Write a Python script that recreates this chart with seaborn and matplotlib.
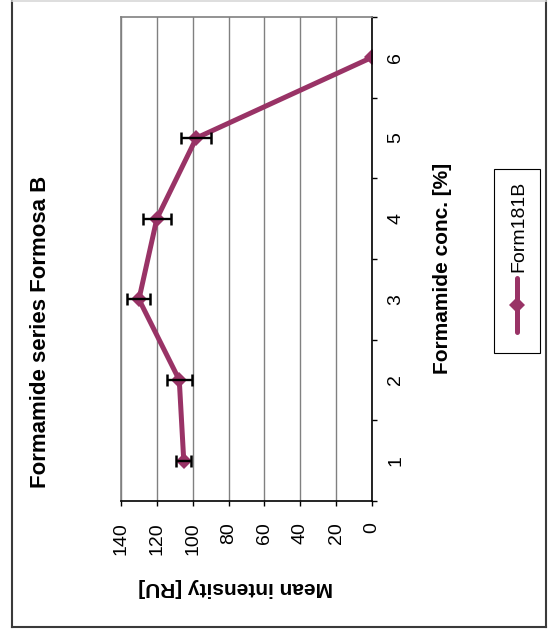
import matplotlib
matplotlib.use("Agg")
import matplotlib.pyplot as plt
from matplotlib.lines import Line2D
from matplotlib.patches import Rectangle
from matplotlib.ticker import FixedLocator, NullFormatter
import seaborn as sns
import numpy as np

# Formamide concentration series (Formosa B)
concentration = [1, 2, 3, 4, 5, 6]
conc_labels = ["1", "2", "3", "4", "5", "6"]
mean_intensity = [105, 107.5, 130, 120, 98, 0]
intensity_err = [4.2, 7.0, 6.4, 8.0, 8.4, 0]
intensity_ticks = [0, 20, 40, 60, 80, 100, 120, 140]
series_name = "Form181B"

LINE_COLOR = "#993366"
W, H = 550, 631

plt.rcParams["font.family"] = ["Liberation Sans", "DejaVu Sans"]

fig = plt.figure(figsize=(W / 100, H / 100), dpi=100)


def fx(x):
    return x / W


def fy(y):
    return 1 - y / H


# plot area (chart is laid out turned on its side)
left, right, top, bottom = 121, 372, 17, 501
ax = fig.add_axes([fx(left), fy(bottom), (right - left) / W, (bottom - top) / H])

sns.lineplot(x=mean_intensity, y=concentration, sort=False, ax=ax,
             color=LINE_COLOR, lw=3.6, marker="D", markersize=8,
             markeredgewidth=0, zorder=2)

err = np.array(intensity_err)
mask = err > 0
ax.errorbar(np.array(mean_intensity)[mask], np.array(concentration)[mask],
            xerr=err[mask], fmt="none", ecolor="black", elinewidth=1.7,
            capsize=4.3, capthick=1.8, zorder=3)

ax.set_xlim(140, 0)
ax.set_ylim(0.5, 6.5)
ax.set_xticks(intensity_ticks)
ax.set_xticklabels([str(t) for t in intensity_ticks], rotation=90, fontsize=14)
ax.grid(axis="x", color="#808080", lw=1.0)
ax.set_axisbelow(True)

# category axis on the right: labels at centres, tick marks between categories
ax.yaxis.tick_right()
ax.set_yticks(concentration)
ax.set_yticklabels(conc_labels, rotation=90, fontsize=14, va="center",
                   ha="left")
ax.yaxis.set_minor_locator(FixedLocator(np.arange(0.5, 7, 1.0)))
ax.yaxis.set_minor_formatter(NullFormatter())
ax.tick_params(axis="y", which="major", length=0, pad=11, right=True,
               left=False)
ax.tick_params(axis="y", which="minor", length=3.6, width=1, direction="out",
               right=True, left=False)
ax.tick_params(axis="x", length=3.6, width=1, direction="out", pad=11.5)

for side in ("left", "top"):
    ax.spines[side].set_color("#808080")
    ax.spines[side].set_linewidth(1.2)
for side in ("right", "bottom"):
    ax.spines[side].set_color("black")
    ax.spines[side].set_linewidth(1.2)

ax.set_xlabel("Mean intensity [RU]", rotation=180, fontsize=15,
              fontweight="bold", va="center", ha="center")
ax.xaxis.set_label_coords((236 - left) / (right - left),
                          -(587 - bottom) / (bottom - top))
ax.yaxis.set_label_position("right")
ax.set_ylabel("Formamide conc. [%]", rotation=90, fontsize=15,
              fontweight="bold", va="center", ha="center")
ax.yaxis.set_label_coords((442 - left) / (right - left),
                          (bottom - 268) / (bottom - top))

# title along the left edge
fig.text(fx(41), fy(332), "Formamide series Formosa B", rotation=90,
         fontsize=16, fontweight="bold", ha="center", va="center")

# legend box
fig.add_artist(Rectangle((fx(494), fy(353)), (540 - 494) / W, (353 - 169) / H,
                         transform=fig.transFigure, fill=False,
                         edgecolor="black", lw=0.8))
fig.add_artist(Line2D([fx(517)] * 3, [fy(278), fy(305), fy(332)],
                      transform=fig.transFigure, color=LINE_COLOR, lw=3.6,
                      marker="D", markersize=8, markeredgewidth=0,
                      markevery=[1], solid_capstyle="round"))
fig.text(fx(519), fy(272), series_name, rotation=90, fontsize=14,
         ha="center", va="bottom")

# chart frame
frame = "#3a3a3a"
fig.add_artist(Line2D([fx(12), fx(12)], [fy(0), fy(627)],
                      transform=fig.transFigure, color=frame, lw=1.5))
fig.add_artist(Line2D([fx(546), fx(546)], [fy(0), fy(627)],
                      transform=fig.transFigure, color=frame, lw=1.5))
fig.add_artist(Line2D([fx(12), fx(546)], [fy(627), fy(627)],
                      transform=fig.transFigure, color=frame, lw=1.5))
fig.add_artist(Line2D([fx(12), fx(546)], [fy(1), fy(1)],
                      transform=fig.transFigure, color="#d8d8d8", lw=1.2))

fig.savefig("out.png", dpi=100)
